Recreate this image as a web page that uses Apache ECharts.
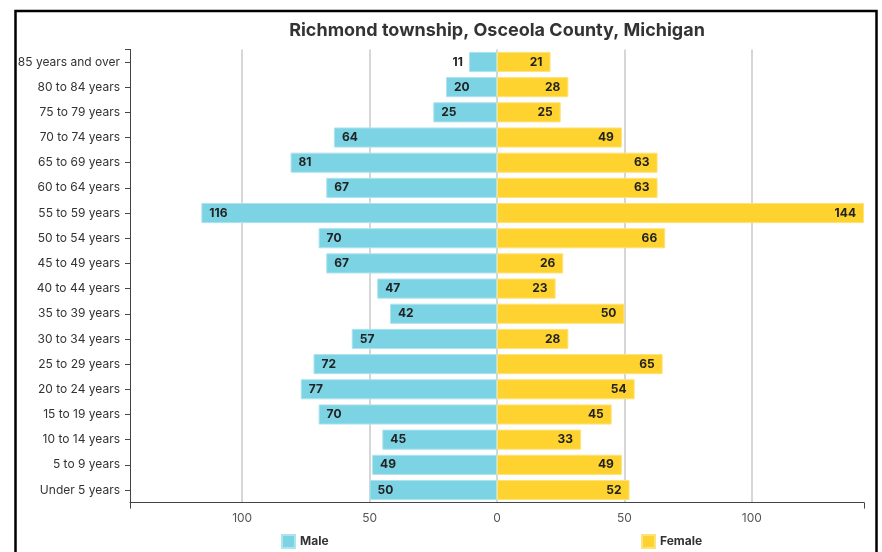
<!DOCTYPE html>
<html>
<head>
<meta charset="utf-8">
<script src="https://cdn.jsdelivr.net/npm/echarts@6/dist/echarts.min.js"></script>
<style>
  html, body { margin: 0; padding: 0; background: #fff; }
  #chart { width: 882px; height: 552px; }
</style>
</head>
<body>
<div id="chart"></div>
<script>
// 年龄段（从上到下）
const ageGroups = [
  '85 years and over', '80 to 84 years', '75 to 79 years', '70 to 74 years',
  '65 to 69 years', '60 to 64 years', '55 to 59 years', '50 to 54 years',
  '45 to 49 years', '40 to 44 years', '35 to 39 years', '30 to 34 years',
  '25 to 29 years', '20 to 24 years', '15 to 19 years', '10 to 14 years',
  '5 to 9 years', 'Under 5 years'
];
const maleValues = [11, 20, 25, 64, 81, 67, 116, 70, 67, 47, 42, 57, 72, 77, 70, 45, 49, 50];
const femaleValues = [21, 28, 25, 49, 63, 63, 144, 66, 26, 23, 50, 28, 65, 54, 45, 33, 49, 52];
const xTicks = [-100, -50, 0, 50, 100];
const xMax = 144;

const FONT = 'Inter, "Noto Sans", sans-serif';
const MALE_COLOR = '#7BD3E3';
const FEMALE_COLOR = '#FED330';

const chart = echarts.init(document.getElementById('chart'));

// 男性为负值，小条的标签放到外面
const maleData = maleValues.map(v => ({
  value: -v,
  label: v < 15 ? { position: 'left', distance: 6 } : {},
}));
const femaleData = femaleValues.map(v => ({
  value: v,
  label: v < 15 ? { position: 'right', distance: 6 } : {},
}));

const barLabel = {
  show: true,
  fontFamily: FONT,
  fontSize: 12,
  fontWeight: 'bold',
  color: '#222',
  distance: 8,
  formatter: p => Math.abs(p.value),
};

const legendText = { fontFamily: FONT, fontSize: 12, fontWeight: 'bold', color: '#333' };

chart.setOption({
  animation: false,
  textStyle: { fontFamily: FONT },
  title: {
    text: 'Richmond township, Osceola County, Michigan',
    left: 492,
    textAlign: 'center',
    top: 17,
    textStyle: { fontFamily: FONT, fontSize: 18, fontWeight: 'bold', color: '#333' },
  },
  legend: [
    {
      data: ['Male'],
      left: 276,
      top: 529,
      itemWidth: 13,
      itemHeight: 13,
      icon: 'rect',
      textStyle: legendText,
    },
    {
      data: ['Female'],
      left: 636,
      top: 529,
      itemWidth: 13,
      itemHeight: 13,
      icon: 'rect',
      textStyle: legendText,
    },
  ],
  grid: { left: 130, right: 18, top: 49.4, bottom: 49.4, containLabel: false },
  xAxis: [
    {
      type: 'value',
      min: -xMax,
      max: xMax,
      axisLine: { show: true, lineStyle: { color: '#444', width: 1 } },
      axisTick: { show: false, customValues: xTicks },
      axisLabel: {
        customValues: xTicks,
        margin: 10,
        fontFamily: FONT,
        fontSize: 12,
        color: '#555',
        formatter: v => Math.abs(v),
      },
      splitLine: { show: true, lineStyle: { color: '#c8c8c8', width: 1.5 } },
    },
    {
      type: 'value',
      position: 'bottom',
      min: -xMax,
      max: xMax,
      axisLine: { show: false, onZero: false },
      axisTick: { show: true, length: 6, customValues: [-xMax, xMax], lineStyle: { color: '#444' } },
      axisLabel: { show: false },
      splitLine: { show: false },
    },
  ],
  yAxis: [
    {
      type: 'category',
      data: ageGroups,
      inverse: true,
      axisLine: { show: true, onZero: false, lineStyle: { color: '#444', width: 1 } },
      axisTick: { show: true, alignWithLabel: true, length: 5, lineStyle: { color: '#444' } },
      axisLabel: { margin: 10, fontFamily: FONT, fontSize: 12, color: '#333' },
      splitLine: { show: false },
    },
    {
      // 顶部的外侧刻度
      type: 'value',
      position: 'left',
      min: 0,
      max: 1,
      axisLine: { show: false, onZero: false },
      axisTick: { show: true, length: 5, customValues: [1], lineStyle: { color: '#444' } },
      axisLabel: { show: false },
      splitLine: { show: false },
    },
  ],
  series: [
    {
      name: 'Male',
      type: 'bar',
      data: maleData,
      barGap: '-100%',
      barCategoryGap: '20%',
      itemStyle: { color: MALE_COLOR, borderColor: '#aee4ee', borderWidth: 1 },
      label: { ...barLabel, position: 'insideLeft' },
    },
    {
      name: 'Female',
      type: 'bar',
      data: femaleData,
      barGap: '-100%',
      barCategoryGap: '20%',
      itemStyle: { color: FEMALE_COLOR, borderColor: '#fee27a', borderWidth: 1 },
      label: { ...barLabel, position: 'insideRight' },
    },
  ],
  graphic: [
    {
      type: 'rect',
      silent: true,
      shape: { x: 15.5, y: 11, width: 861, height: 580 },
      style: { fill: 'none', stroke: '#000', lineWidth: 2.5 },
    },
  ],
});
</script>
</body>
</html>
